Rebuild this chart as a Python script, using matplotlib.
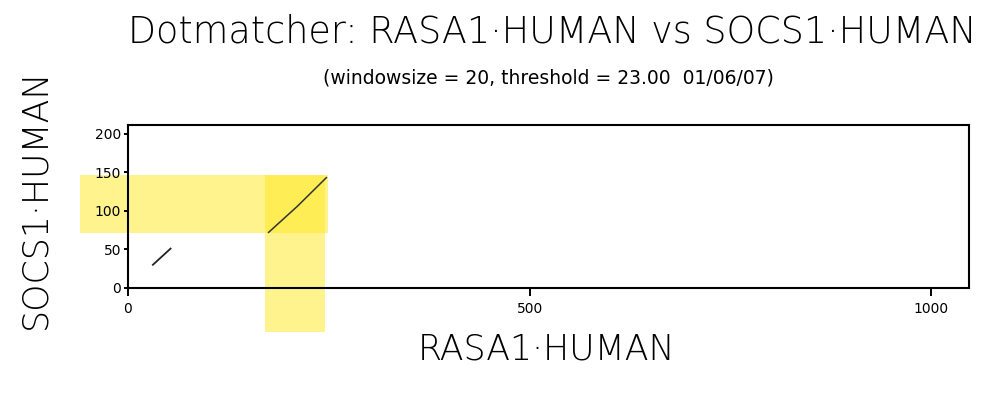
import matplotlib
matplotlib.use("Agg")
import matplotlib.pyplot as plt
from matplotlib.patches import Rectangle

# sequence lengths (axis extents)
len_x = 1047   # RASA1_HUMAN
len_y = 211    # SOCS1_HUMAN

# match diagonals
seg1_x = [31, 53]
seg1_y = [30, 51]
seg2_x = [175, 211, 247]
seg2_y = [72, 106, 143]

# highlighted region of the main match
hl_x = (170, 245)
hl_y = (71, 146)
hl_x_out = -60   # horizontal band runs past the y axis
hl_y_out = -57   # vertical band runs past the x axis

xticks = [0, 500, 1000]
yticks = [0, 50, 100, 150, 200]

title = "Dotmatcher: RASA1\u00b7HUMAN vs SOCS1\u00b7HUMAN"
subtitle = "(windowsize = 20, threshold = 23.00  01/06/07)"
xlabel = "RASA1\u00b7HUMAN"
ylabel = "SOCS1\u00b7HUMAN"

fig = plt.figure(figsize=(10, 4.09), dpi=100)
ax = fig.add_axes([0.128, 0.296, 0.841, 0.398])

hl_color = "#ffe81e"
ax.add_patch(Rectangle((hl_x_out, hl_y[0]), hl_x[1] + 4 - hl_x_out, hl_y[1] - hl_y[0],
                       facecolor=hl_color, alpha=0.5, lw=0, clip_on=False, zorder=1))
ax.add_patch(Rectangle((hl_x[0], hl_y_out), hl_x[1] - hl_x[0], hl_y[1] - hl_y_out,
                       facecolor=hl_color, alpha=0.5, lw=0, clip_on=False, zorder=1))

ax.plot(seg1_x, seg1_y, color="#222222", lw=1.3, zorder=3)
ax.plot(seg2_x, seg2_y, color="#333333", lw=1.1, zorder=3)

ax.set_xlim(0, len_x)
ax.set_ylim(0, len_y)
ax.set_xticks(xticks)
ax.set_yticks(yticks)
ax.tick_params(axis="x", direction="out", length=6, width=1.4, labelsize=10, pad=4)
ax.tick_params(axis="y", direction="out", length=3, width=1.4, labelsize=10, pad=2)
for s in ax.spines.values():
    s.set_linewidth(1.5)
    s.set_zorder(4)
ax.set_facecolor("none")

fw = 200
fig.text(0.552, 0.897, title, ha="center", va="baseline", fontsize=26.3, fontweight=fw)
fig.text(0.548, 0.81, subtitle, ha="center", va="center", fontsize=13.5)
fig.text(0.547, 0.12, xlabel, ha="center", va="baseline", fontsize=25, fontweight=fw)
fig.text(0.045, 0.515, ylabel, ha="center", va="baseline", rotation=90, rotation_mode="anchor",
         fontsize=25, fontweight=fw)

plt.savefig("out.png", dpi=100)
